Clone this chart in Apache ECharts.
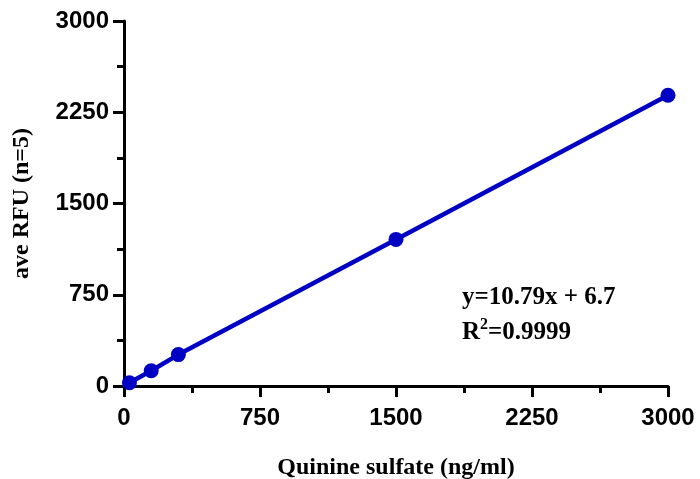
<!DOCTYPE html>
<html>
<head>
<meta charset="utf-8">
<script src="https://cdn.jsdelivr.net/npm/echarts@6/dist/echarts.min.js"></script>
<style>
  html, body { margin: 0; padding: 0; background: #fff; }
  #main { width: 700px; height: 479px; }
</style>
</head>
<body>
<div id="main"></div>
<script>
// concentration (ng/ml) and mean RFU
var conc = [30, 150, 300, 1500, 3000];
var rfu = [27, 125, 258, 1205, 2390];
var axisTicks = [0, 750, 1500, 2250, 3000];
var eqText = 'y=10.79x + 6.7';
var r2Text = '0.9999';

var myChart = echarts.init(document.getElementById('main'));

var points = [];
for (var i = 0; i < conc.length; i++) {
    points.push([conc[i], rfu[i]]);
}

function axisStyle(name, nameGap, labelMargin) {
    return {
        type: 'value',
        min: axisTicks[0],
        max: axisTicks[axisTicks.length - 1],
        interval: axisTicks[1] - axisTicks[0],
        name: name,
        nameLocation: 'middle',
        nameGap: nameGap,
        nameTextStyle: {
            fontFamily: 'Liberation Serif',
            fontWeight: 'bold',
            fontSize: 24,
            color: '#000'
        },
        axisLine: { show: true, onZero: false, lineStyle: { color: '#000', width: 3 } },
        axisTick: { show: true, inside: false, length: 11, lineStyle: { color: '#000', width: 3 } },
        minorTick: { show: true, splitNumber: 2, length: 7, lineStyle: { color: '#000', width: 3 } },
        splitLine: { show: false },
        axisLabel: {
            color: '#000',
            fontFamily: 'Liberation Sans',
            fontWeight: 'bold',
            fontSize: 24,
            margin: labelMargin,
            formatter: function (v) { return String(v); }
        }
    };
}

var option = {
    animation: false,
    grid: { left: 124, right: 32, top: 21, bottom: 93, containLabel: false, outerBoundsMode: 'none' },
    xAxis: axisStyle('Quinine sulfate (ng/ml)', 70, 20),
    yAxis: axisStyle('ave RFU (n=5)', 90, 15),
    series: [{
        type: 'line',
        data: points,
        symbol: 'circle',
        symbolSize: 15,
        color: '#0000c4',
        itemStyle: { color: '#0000c4' },
        lineStyle: { color: '#0000c4', width: 4.5 }
    }],
    graphic: [{
        type: 'text',
        left: 462,
        top: 285,
        style: {
            text: eqText,
            fontFamily: 'Liberation Serif',
            fontWeight: 'bold',
            fontSize: 25,
            fill: '#000'
        }
    }, {
        type: 'text',
        left: 462,
        top: 317,
        style: {
            text: '{b|R}{s|2}{b|=' + r2Text + '}',
            rich: {
                b: { fontFamily: 'Liberation Serif', fontWeight: 'bold', fontSize: 25, fill: '#000', verticalAlign: 'bottom' },
                s: { fontFamily: 'Liberation Serif', fontWeight: 'bold', fontSize: 16, fill: '#000', verticalAlign: 'top', padding: [0, 0, 12, 0] }
            }
        }
    }]
};

myChart.setOption(option);
</script>
</body>
</html>
